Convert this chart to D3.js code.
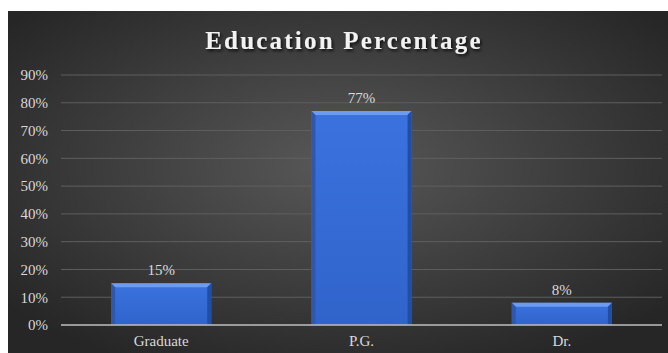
<!DOCTYPE html>
<html>
<head>
<meta charset="utf-8">
<script src="https://cdn.jsdelivr.net/npm/d3@7/dist/d3.min.js"></script>
<style>
  html, body { margin: 0; padding: 0; background: #ffffff; }
  svg { display: block; }
</style>
</head>
<body>
<svg id="chart" width="668" height="353"></svg>
<script>
const categories = ["Graduate", "P.G.", "Dr."];
const values = [15, 77, 8];
const tickValues = [0, 10, 20, 30, 40, 50, 60, 70, 80, 90];
const title = "Education Percentage";

const W = 668, H = 353;
const frame = { x: 8, y: 11, w: W - 8, h: H - 11 };
const plot = { left: 61, right: 662, top: 75, bottom: 325 };
const serif = "'Liberation Serif', 'Times New Roman', serif";

const svg = d3.select("#chart");
const defs = svg.append("defs");

// background: dark radial gradient
const bg = defs.append("radialGradient").attr("id", "bg")
  .attr("cx", "50%").attr("cy", "45%").attr("r", "65%");
bg.append("stop").attr("offset", "0%").attr("stop-color", "#585858");
bg.append("stop").attr("offset", "100%").attr("stop-color", "#262626");

const barGrad = defs.append("linearGradient").attr("id", "barFill")
  .attr("x1", 0).attr("x2", 0).attr("y1", 0).attr("y2", 1);
barGrad.append("stop").attr("offset", "0%").attr("stop-color", "#3b72de");
barGrad.append("stop").attr("offset", "100%").attr("stop-color", "#3064cb");

const shadow = defs.append("filter").attr("id", "tshadow")
  .attr("x", "-10%").attr("y", "-30%").attr("width", "120%").attr("height", "160%");
shadow.append("feDropShadow").attr("dx", 1.5).attr("dy", 2).attr("stdDeviation", 1.5)
  .attr("flood-color", "#000").attr("flood-opacity", 0.8);

svg.append("rect")
  .attr("x", frame.x).attr("y", frame.y)
  .attr("width", frame.w).attr("height", frame.h)
  .attr("fill", "url(#bg)");

const x = d3.scaleBand().domain(categories)
  .range([plot.left, plot.right]).paddingInner(0.5).paddingOuter(0.25);
const y = d3.scaleLinear().domain([0, 90]).range([plot.bottom, plot.top]);

// gridlines
svg.append("g").selectAll("line").data(tickValues.filter(d => d > 0)).join("line")
  .attr("x1", plot.left).attr("x2", plot.right)
  .attr("y1", d => y(d)).attr("y2", d => y(d))
  .attr("stroke", "#5f5f5f").attr("stroke-width", 1);

// y axis labels
const yAxis = d3.axisLeft(y).tickValues(tickValues).tickFormat(d => d + "%").tickSize(0).tickPadding(13);
const ya = svg.append("g").attr("transform", `translate(${plot.left},0)`).call(yAxis);
ya.select(".domain").remove();
ya.selectAll("text")
  .attr("fill", "#d9d9d9")
  .attr("font-family", serif)
  .attr("font-size", 15);

// bars with bevelled edges
const bev = 4;
const bars = svg.append("g").selectAll("g").data(categories.map((c, i) => ({ c, v: values[i] }))).join("g");
bars.append("rect")
  .attr("x", d => x(d.c)).attr("y", d => y(d.v))
  .attr("width", x.bandwidth()).attr("height", d => y(0) - y(d.v))
  .attr("fill", "url(#barFill)");
// top bevel
bars.append("polygon")
  .attr("points", d => {
    const x0 = x(d.c), x1 = x0 + x.bandwidth(), t = y(d.v);
    return `${x0},${t} ${x1},${t} ${x1 - bev},${t + bev} ${x0 + bev},${t + bev}`;
  })
  .attr("fill", "#6c9cf0");
// left bevel
bars.append("polygon")
  .attr("points", d => {
    const x0 = x(d.c), t = y(d.v), b = y(0);
    return `${x0},${t} ${x0 + bev},${t + bev} ${x0 + bev},${b} ${x0},${b}`;
  })
  .attr("fill", "#2a58b4");
// right bevel
bars.append("polygon")
  .attr("points", d => {
    const x1 = x(d.c) + x.bandwidth(), t = y(d.v), b = y(0);
    return `${x1},${t} ${x1 - bev},${t + bev} ${x1 - bev},${b} ${x1},${b}`;
  })
  .attr("fill", "#244d9e");

// value labels
bars.append("text")
  .attr("x", d => x(d.c) + x.bandwidth() / 2)
  .attr("y", d => y(d.v) - 8)
  .attr("text-anchor", "middle")
  .attr("fill", "#d9d9d9")
  .attr("font-family", serif)
  .attr("font-size", 15)
  .text(d => d.v + "%");

// baseline axis
const xAxis = d3.axisBottom(x).tickSize(0).tickPadding(10);
const xa = svg.append("g").attr("transform", `translate(0,${plot.bottom})`).call(xAxis);
xa.select(".domain").attr("stroke", "#bfbfbf").attr("stroke-width", 1.5)
  .attr("d", `M${plot.left},0H${plot.right}`);
xa.selectAll("text")
  .attr("fill", "#d9d9d9")
  .attr("font-family", serif)
  .attr("font-size", 15);

// title
svg.append("text")
  .attr("x", 344).attr("y", 49)
  .attr("text-anchor", "middle")
  .attr("fill", "#f2f2f2")
  .attr("font-family", serif)
  .attr("font-weight", "bold")
  .attr("font-size", 25)
  .attr("letter-spacing", 2.2)
  .attr("filter", "url(#tshadow)")
  .text(title);
</script>
</body>
</html>
